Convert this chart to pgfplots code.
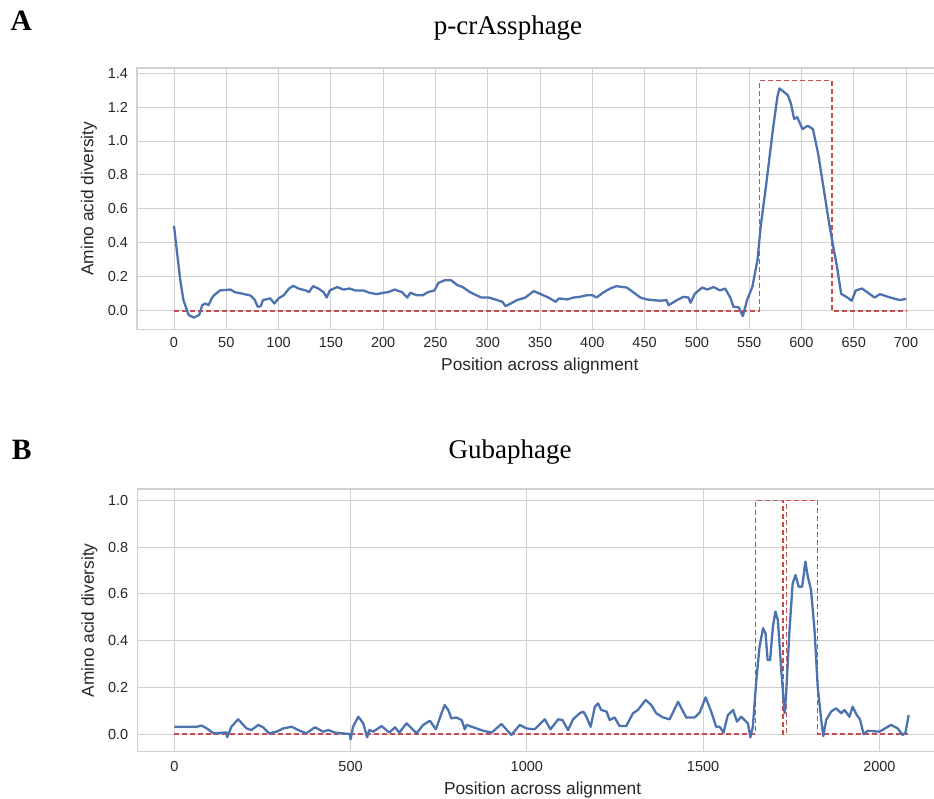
\documentclass[border=0pt]{standalone}
\usepackage{fontspec}
\setmainfont{Liberation Sans}
\newfontfamily\serifA{Liberation Serif}
\usepackage{pgfplots}
\pgfplotsset{compat=1.18}
\definecolor{sblue}{HTML}{4C72B0}
\definecolor{sred}{HTML}{C44E52}
\definecolor{gridc}{HTML}{D0D0D0}
\pgfplotsset{
  sbstyle/.style={
    scale only axis,
    axis line style={gridc, line width=1.3pt},
    grid=major,
    grid style={gridc, line width=1pt},
    major tick length=0pt,
    tick label style={font=\fontsize{14.5}{14.5}\selectfont, text=black!85},
    label style={font=\fontsize{17.3}{17.3}\selectfont, text=black!85},
    /pgf/number format/assume math mode=true,
    /pgf/number format/1000 sep={},
    yticklabel style={xshift=-5.5pt, /pgf/number format/.cd, fixed, fixed zerofill, precision=1},
    ylabel style={rotate=0},
  },
  divline/.style={sblue, line width=2.3pt, line join=round},
  boxline/.style={sred, line width=1.5pt, dash pattern=on 5pt off 3pt},
}
\begin{document}
\begin{tikzpicture}[x=1pt,y=1pt]
% Panel A
\begin{axis}[sbstyle,
  at={(137pt,468.7pt)}, anchor=south west,
  width=805.6pt, height=261.3pt,
  xmin=-35.4, xmax=735, ymin=-0.109, ymax=1.43,
  xtick={0,50,...,700}, ytick={0,0.2,...,1.4},
  xticklabel style={yshift=-5pt},
  xlabel={Position across alignment},
  ylabel={Amino acid diversity},
  xlabel style={at={(axis description cs:0.5,0)}, anchor=base, yshift=-41.7pt},
  ylabel style={at={(axis description cs:-0.0596,0.5)}, anchor=center},
]
\addplot[boxline] coordinates {(0,0) (560,0) (560,1.355) (629,1.355) (629,0) (700,0)};
\addplot[divline] coordinates {
(0,0.50) (3,0.337) (6,0.18) (9,0.063) (14,-0.025) (19,-0.04) (24,-0.025) (27,0.033) (30,0.043) (33,0.033)
(36,0.073) (38,0.09) (44,0.12) (54,0.125) (58,0.11) (66,0.10) (73,0.09) (77,0.067) (80,0.024) (83,0.027)
(85,0.063) (92,0.073) (96,0.043) (100,0.073) (105,0.092) (110,0.131) (114,0.147) (119,0.131) (126,0.12)
(129,0.11) (133,0.145) (138,0.131) (143,0.11) (146,0.078) (149,0.12) (156,0.14) (162,0.125) (168,0.131)
(173,0.12) (181,0.12) (187,0.106) (194,0.098) (200,0.106) (205,0.11) (211,0.125) (218,0.11) (223,0.078)
(226,0.106) (232,0.092) (238,0.092) (243,0.11) (249,0.12) (253,0.165) (259,0.18) (265,0.18) (271,0.151)
(276,0.14) (283,0.11) (289,0.092) (294,0.078) (301,0.078) (307,0.067) (314,0.053) (317,0.027) (322,0.043)
(328,0.063) (336,0.078) (344,0.116) (350,0.10) (358,0.078) (365,0.053) (368,0.073) (376,0.067) (382,0.078)
(388,0.082) (395,0.092) (400,0.092) (404,0.078) (411,0.11) (417,0.131) (423,0.145) (433,0.137) (439,0.11)
(446,0.078) (452,0.067) (458,0.063) (465,0.059) (471,0.063) (473,0.033) (481,0.063) (487,0.082) (492,0.078)
(494,0.047) (498,0.10) (505,0.137) (510,0.125) (516,0.14) (522,0.12) (527,0.131) (532,0.078) (535,0.024)
(540,0.02) (544,-0.031) (548,0.063) (553,0.14) (558,0.30) (561,0.494) (566,0.73) (573,1.08) (577,1.26)
(579,1.31) (583,1.29) (587,1.27) (590,1.22) (593,1.13) (596,1.14) (601,1.07) (606,1.09) (611,1.07)
(616,0.925) (621,0.73) (626,0.533) (631,0.357) (634,0.26) (638,0.10) (644,0.078) (648,0.059) (652,0.12)
(658,0.131) (665,0.10) (670,0.078) (675,0.098) (685,0.078) (694,0.063) (700,0.07)
};
\end{axis}
% Panel B
\begin{axis}[sbstyle,
  at={(137.3pt,46.3pt)}, anchor=south west,
  width=810.7pt, height=262.7pt,
  xmin=-104.9, xmax=2194.6, ymin=-0.0757, ymax=1.049,
  xtick={0,500,1000,1500,2000}, ytick={0,0.2,...,1.0},
  xticklabel style={yshift=-6.5pt},
  xlabel={Position across alignment},
  ylabel={Amino acid diversity},
  xlabel style={at={(axis description cs:0.5,0)}, anchor=base, yshift=-42.3pt},
  ylabel style={at={(axis description cs:-0.0592,0.5)}, anchor=center},
]
\addplot[boxline] coordinates {(0,0) (1649,0) (1649,1) (1726,1) (1726,0) (1736,0) (1736,1) (1825,1) (1825,0) (2080,0)};
\addplot[divline] coordinates {
(0,0.031) (63,0.031) (78,0.036) (92,0.024) (111,0.003) (148,0.007) (150,-0.014) (162,0.031) (181,0.063)
(196,0.039) (205,0.024) (219,0.017) (238,0.039) (252,0.029) (269,0.003) (290,0.01) (309,0.024) (333,0.031)
(356,0.014) (375,0.003) (399,0.029) (422,0.01) (437,0.017) (456,0.006) (498,0.0) (500,-0.023) (507,0.031)
(522,0.074) (536,0.046) (547,-0.014) (553,0.017) (564,0.01) (588,0.034) (610,0.006) (626,0.029) (638,0.006)
(659,0.046) (687,0.003) (706,0.039) (725,0.057) (742,0.02) (758,0.089) (767,0.124) (777,0.103) (786,0.067)
(800,0.071) (815,0.06) (824,0.02) (829,0.039) (857,0.024) (876,0.014) (900,0.006) (928,0.043) (956,-0.004)
(980,0.039) (999,0.024) (1022,0.02) (1051,0.063) (1067,0.02) (1089,0.063) (1101,0.06) (1117,0.017)
(1131,0.063) (1150,0.089) (1160,0.096) (1169,0.074) (1181,0.031) (1193,0.117) (1202,0.131) (1211,0.103)
(1226,0.096) (1235,0.06) (1249,0.071) (1263,0.034) (1282,0.034) (1301,0.089) (1315,0.103) (1337,0.146)
(1353,0.124) (1367,0.089) (1386,0.071) (1405,0.063) (1429,0.138) (1452,0.071) (1476,0.071) (1490,0.091)
(1507,0.157) (1523,0.096) (1537,0.031) (1547,0.031) (1558,0.006) (1570,0.081) (1585,0.103) (1596,0.053)
(1608,0.074) (1627,0.046) (1634,-0.014) (1641,0.031) (1651,0.231) (1660,0.374) (1670,0.453) (1677,0.431)
(1683,0.317) (1690,0.317) (1698,0.46) (1705,0.524) (1712,0.488) (1721,0.288) (1731,0.089) (1735,0.16)
(1745,0.445) (1754,0.645) (1762,0.681) (1771,0.631) (1781,0.631) (1790,0.738) (1797,0.674) (1806,0.617)
(1816,0.445) (1825,0.203) (1835,0.06) (1841,-0.009) (1849,0.06) (1863,0.096) (1877,0.11) (1892,0.089)
(1901,0.103) (1915,0.074) (1924,0.117) (1936,0.081) (1945,0.063) (1955,0.0) (1967,0.014) (2000,0.01)
(2033,0.039) (2052,0.024) (2066,-0.004) (2074,0.006) (2083,0.081)
};
\end{axis}
\node[anchor=base, font=\serifA\fontsize{27}{27}\selectfont] at (508pt,763.7pt) {p-crAssphage};
\node[anchor=base, font=\serifA\fontsize{27}{27}\selectfont] at (510pt,339.7pt) {Gubaphage};
\node[anchor=base, font=\serifA\bfseries\fontsize{29.5}{29.5}\selectfont] at (21.2pt,767.3pt) {A};
\node[anchor=base, font=\serifA\bfseries\fontsize{29.5}{29.5}\selectfont] at (21.7pt,338pt) {B};
\pgfresetboundingbox
\useasboundingbox (0pt,0pt) rectangle (934pt,798pt);
\end{tikzpicture}
\end{document}
